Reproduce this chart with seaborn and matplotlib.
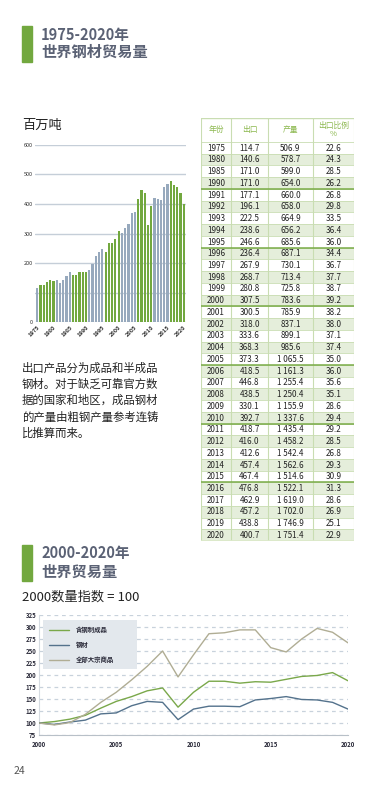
import numpy as np
import pandas as pd
import seaborn as sns
import matplotlib.pyplot as plt
from matplotlib.patches import Rectangle
import matplotlib.ticker as mticker

sns.set_style("white")
plt.rcParams['font.family'] = ['Noto Sans CJK SC', 'DejaVu Sans']

# ---- data: bar chart (million tonnes) ----
bar_years = list(range(1975, 2021))
bar_values = [114.7, 125, 125, 136, 141, 140.6, 142, 132, 142, 156,
              171.0, 159, 159, 169, 169, 171.0, 177.1, 196.1, 222.5, 238.6,
              246.6, 236.4, 267.9, 268.7, 280.8, 307.5, 300.5, 318.0, 333.6, 368.3,
              373.3, 418.5, 446.8, 438.5, 330.1, 392.7, 418.7, 416.0, 412.6, 457.4,
              467.4, 476.8, 462.9, 457.2, 438.8, 400.7]

# ---- data: table ----
tab_years = ["1975", "1980", "1985", "1990", "1991", "1992", "1993", "1994", "1995",
             "1996", "1997", "1998", "1999", "2000", "2001", "2002", "2003", "2004",
             "2005", "2006", "2007", "2008", "2009", "2010", "2011", "2012", "2013",
             "2014", "2015", "2016", "2017", "2018", "2019", "2020"]
tab_export = ["114.7", "140.6", "171.0", "171.0", "177.1", "196.1", "222.5", "238.6",
              "246.6", "236.4", "267.9", "268.7", "280.8", "307.5", "300.5", "318.0",
              "333.6", "368.3", "373.3", "418.5", "446.8", "438.5", "330.1", "392.7",
              "418.7", "416.0", "412.6", "457.4", "467.4", "476.8", "462.9", "457.2",
              "438.8", "400.7"]
tab_output = ["506.9", "578.7", "599.0", "654.0", "660.0", "658.0", "664.9", "656.2",
              "685.6", "687.1", "730.1", "713.4", "725.8", "783.6", "785.9", "837.1",
              "899.1", "985.6", "1 065.5", "1 161.3", "1 255.4", "1 250.4", "1 155.9",
              "1 337.6", "1 435.4", "1 458.2", "1 542.4", "1 562.6", "1 514.6",
              "1 522.1", "1 619.0", "1 702.0", "1 746.9", "1 751.4"]
tab_ratio = ["22.6", "24.3", "28.5", "26.2", "26.8", "29.8", "33.5", "36.4", "36.0",
             "34.4", "36.7", "37.7", "38.7", "39.2", "38.2", "38.0", "37.1", "37.4",
             "35.0", "36.0", "35.6", "35.1", "28.6", "29.4", "29.2", "28.5", "26.8",
             "29.3", "30.9", "31.3", "28.6", "26.9", "25.1", "22.9"]
tab_header = ["年份", "出口", "产量", "出口比例\n%"]

# ---- data: index chart (2000 = 100) ----
line_years = list(range(2000, 2021))
steel_goods = [100, 103, 108, 116, 131, 145, 155, 167, 173, 133, 164,
               187, 187, 183, 186, 185, 191, 197, 199, 205, 188]
steel = [100, 97, 102, 106, 119, 121, 136, 145, 143, 107, 129,
         135, 135, 134, 148, 151, 155, 149, 148, 143, 129]
commodities = [100, 96, 101, 118, 143, 164, 190, 218, 250, 196, 242,
               286, 288, 294, 294, 257, 248, 275, 297, 289, 267]
series_names = ["含钢制成品", "钢材", "全部大宗商品"]

W, H = 377, 793
GREEN = "#72a83f"
GRAY = "#97a9bd"
SLATE = "#5b6275"

fig = plt.figure(figsize=(W / 100, H / 100), dpi=100)


def px_axes(x0, y0, x1, y1):
    return fig.add_axes([x0 / W, 1 - y1 / H, (x1 - x0) / W, (y1 - y0) / H])


def ftext(x, y, s, **kw):
    fig.text(x / W, 1 - y / H, s, **kw)


# titles
fig.patches.append(Rectangle((22 / W, 1 - 62 / H), 10 / W, 36 / H,
                             transform=fig.transFigure, color=GREEN))
ftext(41, 35, "1975-2020年", fontsize=10.5, fontweight="bold", color=SLATE, va="center")
ftext(41, 52, "世界钢材贸易量", fontsize=11, fontweight="bold", color=SLATE, va="center")
ftext(22, 125, "百万吨", fontsize=9.5, color="#222222", va="center")

para = ["出口产品分为成品和半成品", "钢材。对于缺乏可靠官方数", "据的国家和地区，成品钢材",
        "的产量由粗钢产量参考连铸", "比推算而来。"]
for i, line in enumerate(para):
    ftext(22, 368 + i * 16.2, line, fontsize=8.2, color="#222222", va="center")

fig.patches.append(Rectangle((22 / W, 1 - 581 / H), 10 / W, 36 / H,
                             transform=fig.transFigure, color=GREEN))
ftext(41, 553, "2000-2020年", fontsize=10.5, fontweight="bold", color=SLATE, va="center")
ftext(41, 572, "世界贸易量", fontsize=11, fontweight="bold", color=SLATE, va="center")
ftext(22, 597, "2000数量指数 = 100", fontsize=9.5, color="#222222", va="center")
ftext(14, 771, "24", fontsize=7.5, color="#555555", va="center")

# ---- bar chart ----
ax = px_axes(35, 145, 186, 322)
bar_df = pd.DataFrame({"year": [str(y) for y in bar_years], "value": bar_values})
bar_df["grp"] = [("g" if ((y - 1976) // 5) % 2 == 0 else "b") if y > 1975 else "b"
                 for y in bar_years]
sns.barplot(data=bar_df, x="year", y="value", hue="grp", palette={"g": GREEN, "b": GRAY},
            dodge=False, width=0.68, saturation=1, legend=False, ax=ax, zorder=3,
            linewidth=0)
ax.set_ylim(0, 600)
ax.set_xlim(-0.7, len(bar_years) - 0.3)
ax.set_yticks(range(0, 601, 100))
ax.set_yticklabels(["0", "", "200", "300", "400", "500", "600"])
ax.yaxis.grid(True, color="#c5ced8", linewidth=1)
ax.set_xticks([i for i, y in enumerate(bar_years) if y % 5 == 0])
ax.set_xticklabels([str(y) for y in bar_years if y % 5 == 0], rotation=45,
                   ha="right", rotation_mode="anchor")
ax.tick_params(axis="both", length=0, labelsize=4.0, colors="#333333", pad=1.5)
ax.tick_params(axis="x", pad=2)
for lab in ax.get_xticklabels():
    lab.set_fontweight("bold")
ax.set_xlabel("")
ax.set_ylabel("")
sns.despine(ax=ax, left=True, bottom=True)

# ---- table ----
tx = px_axes(201, 118, 354, 541)
col_edges = [0, 30, 67, 112, 153]
head_h = 24
row_h = (541 - 118 - head_h) / len(tab_years)
tot_h = head_h + row_h * len(tab_years)
tx.set_xlim(0, 153)
tx.set_ylim(tot_h, 0)
tx.axis("off")
HEAD_GREEN = "#8cb84f"
LINE_LIGHT = "#c9ddb2"
for c in range(4):
    cx = (col_edges[c] + col_edges[c + 1]) / 2
    tx.text(cx, head_h / 2, tab_header[c], ha="center", va="center", fontsize=5.6,
            color=HEAD_GREEN, linespacing=1.0)
rows = list(zip(tab_years, tab_export, tab_output, tab_ratio))
for r, vals in enumerate(rows):
    y0 = head_h + r * row_h
    if r % 2 == 1:
        tx.add_patch(Rectangle((0, y0), 153, row_h, color="#e5eedb", lw=0))
    for c, v in enumerate(vals):
        cx = (col_edges[c] + col_edges[c + 1]) / 2
        tx.text(cx, y0 + row_h / 2 + 0.3, v, ha="center", va="center", fontsize=5.8,
                color="#222222")
    tx.axhline(y0, color=LINE_LIGHT, lw=0.6)
for e in col_edges:
    tx.plot([e, e], [0, tot_h], color=LINE_LIGHT, lw=0.8)
tx.axhline(0, color=LINE_LIGHT, lw=1)
tx.axhline(tot_h, color="#dbe9c9", lw=2)
for yr in ["1990", "1995", "2000", "2005", "2010", "2015"]:
    r = tab_years.index(yr) + 1
    tx.axhline(head_h + r * row_h, color="#79ab47", lw=1.1)

# ---- line chart ----
lx = px_axes(39, 615, 348, 735)
long_df = pd.DataFrame({
    "year": line_years * 3,
    "value": steel_goods + steel + commodities,
    "series": [series_names[0]] * 21 + [series_names[1]] * 21 + [series_names[2]] * 21,
})
palette = {series_names[0]: "#7aa84a", series_names[1]: "#54728c", series_names[2]: "#b0ad94"}
sns.lineplot(data=long_df, x="year", y="value", hue="series", palette=palette,
             linewidth=1.0, ax=lx, zorder=4)
lx.set_xlim(2000, 2020)
lx.set_ylim(75, 325)
lx.set_yticks(range(75, 326, 25))
lx.set_xticks(range(2000, 2021, 5))
lx.xaxis.set_minor_locator(mticker.MultipleLocator(1))
lx.yaxis.grid(True, color="#c8d2dc", linestyle=(0, (3, 3)), linewidth=0.9)
lx.tick_params(axis="both", which="major", length=0, labelsize=4.3, colors="#2b2b3a", pad=2)
lx.tick_params(axis="x", which="minor", length=2, color="#b8c0c8", width=0.6)
lx.tick_params(axis="x", which="major", length=2, color="#b8c0c8", width=0.6)
for lab in lx.get_xticklabels() + lx.get_yticklabels():
    lab.set_fontweight("bold")
lx.set_xlabel("")
lx.set_ylabel("")
for s in ["top", "right"]:
    lx.spines[s].set_visible(False)
lx.spines["left"].set_color("#d5dbe1")
lx.spines["bottom"].set_color("#b8c0c8")
lx.spines["left"].set_linewidth(0.8)
lx.spines["bottom"].set_linewidth(0.8)
leg = lx.legend(loc="upper left", bbox_to_anchor=(0.013, 0.958, 0.304, 0.0), mode="expand",
                frameon=True, fancybox=False, facecolor="#e3e8ed", edgecolor="none",
                fontsize=4.6, handlelength=3.2, handletextpad=1.0, labelspacing=1.25,
                borderpad=0.9, borderaxespad=0)
leg.get_frame().set_alpha(1)
for t in leg.get_texts():
    t.set_fontweight("bold")
    t.set_color("#2b2b3a")

fig.savefig("out.png", dpi=100)
